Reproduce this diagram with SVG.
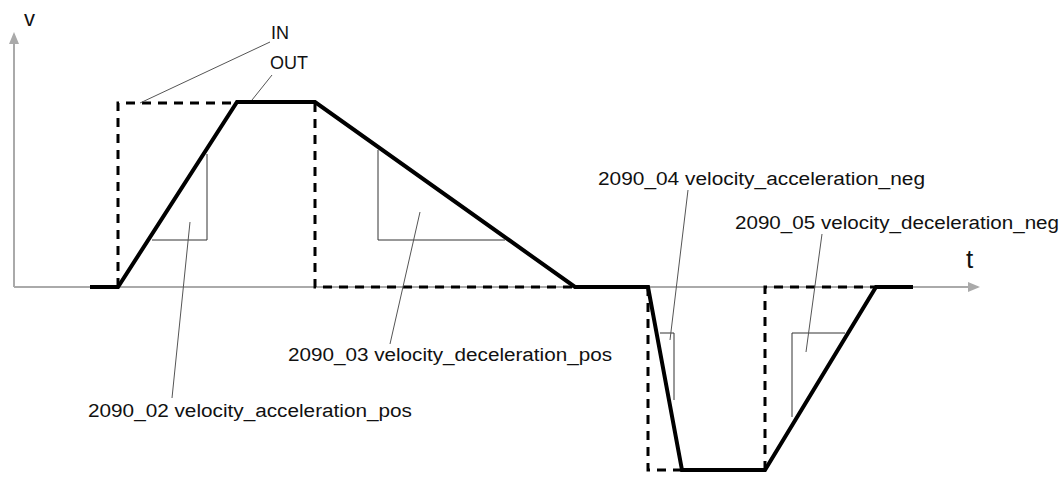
<svg xmlns="http://www.w3.org/2000/svg" width="1062" height="479" viewBox="0 0 1062 479">
<style>
text{font-family:"Liberation Sans",Arial,sans-serif;font-size:18px;fill:#111}
.axis{stroke:#aaa;stroke-width:2;fill:none}
.out{stroke:#000;stroke-width:4;fill:none;stroke-linejoin:miter}
.in{stroke:#000;stroke-width:3;fill:none;stroke-dasharray:9,7}
.thin{stroke:#333;stroke-width:1;fill:none}
.lead{stroke:#555;stroke-width:1;fill:none}
</style>
<defs><marker id="ah" markerWidth="12" markerHeight="10" refX="10" refY="5" orient="auto" markerUnits="userSpaceOnUse"><path d="M0,0 L12,5 L0,10 z" fill="#aaa"/></marker></defs>
<g id="axes">
<line class="axis" x1="14" y1="287" x2="14" y2="34" marker-end="url(#ah)"/>
<line class="axis" x1="14" y1="287" x2="978" y2="287" marker-end="url(#ah)"/>
<text x="24" y="26" style="font-size:22px">v</text>
<text x="966" y="268" style="font-size:26px">t</text>
</g>
<g id="connectors">
<polyline class="in" points="118,287 118,103 237,103"/>
<polyline class="in" points="315,103 315,287 575,287"/>
<polyline class="in" points="648,287 648,470 682,470"/>
<polyline class="in" points="765,470 765,287 876,287"/>
<polyline class="out" points="90,287 118,287 237,102 315,102 575,287 648,287 682,470 765,470 876,287 913,287"/>
<polyline class="thin" points="207,154 207,240 152,240"/>
<polyline class="thin" points="378,150 378,240 505,240"/>
<polyline class="thin" points="660,333 674,333 674,400"/>
<polyline class="thin" points="792,417 792,333 845,333"/>
<line class="lead" x1="270" y1="42" x2="140" y2="103"/>
<line class="lead" x1="272" y1="75" x2="252" y2="100"/>
<line class="lead" x1="190" y1="222" x2="172" y2="398"/>
<line class="lead" x1="420" y1="212" x2="390" y2="344"/>
<line class="lead" x1="688" y1="190" x2="670" y2="340"/>
<line class="lead" x1="822" y1="234" x2="806" y2="352"/>
</g>
<g id="labels">
<text x="271" y="39">IN</text>
<text x="270" y="69">OUT</text>
<text x="88" y="417" textLength="324" lengthAdjust="spacingAndGlyphs">2090_02 velocity_acceleration_pos</text>
<text x="288" y="361" textLength="324" lengthAdjust="spacingAndGlyphs">2090_03 velocity_deceleration_pos</text>
<text x="598" y="185" textLength="327" lengthAdjust="spacingAndGlyphs">2090_04 velocity_acceleration_neg</text>
<text x="735" y="229" textLength="324" lengthAdjust="spacingAndGlyphs">2090_05 velocity_deceleration_neg</text>
</g>
</svg>
